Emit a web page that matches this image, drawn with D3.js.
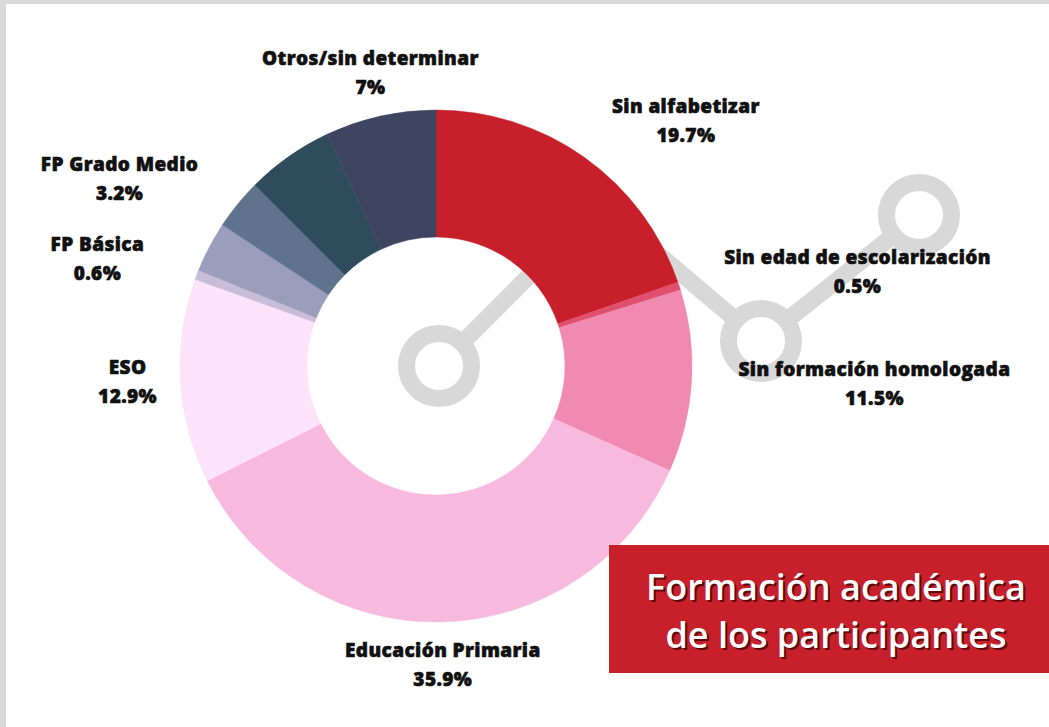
<!DOCTYPE html>
<html>
<head>
<meta charset="utf-8">
<script src="https://cdn.jsdelivr.net/npm/d3@7"></script>
<style>
  html, body { margin: 0; padding: 0; background: #fff; }
  svg { display: block; }
</style>
</head>
<body>
<div id="chart"></div>
<script>
// slices, clockwise from 12 o'clock (empty label = no text in the original)
const categories = ["Sin alfabetizar", "Sin edad de escolarización", "Sin formación homologada",
  "Educación Primaria", "ESO", "FP Básica", "FP Grado Medio", "", " ", "Otros/sin determinar"];
const values = [19.7, 0.5, 11.5, 35.9, 12.9, 0.6, 3.2, 3.2, 5.5, 7];
const colors = ["#c8202b", "#e04f6d", "#f08ab1", "#f8b9de", "#fde3fa",
  "#c8bdd8", "#9a9ebb", "#5f738d", "#2f4c5d", "#3d4560"];

// label nudges from the centroid at labelR
const labelNudge = {
  "Sin alfabetizar": [70, 8],
  "Sin edad de escolarización": [127, 3],
  "Sin formación homologada": [129, 0],
  "Educación Primaria": [0, -11],
  "ESO": [1, -2],
  "FP Básica": [-49, 3],
  "FP Grado Medio": [-42, -43],
  "Otros/sin determinar": [2, 10]
};

const width = 1049, height = 727;
const cx = 436, cy = 366;
const outerR = 256, innerR = 129, labelR = 310;

const data = categories.map((c, i) => ({ name: c, value: values[i], color: colors[i] }));

const svg = d3.select("#chart").append("svg")
    .attr("width", width)
    .attr("height", height)
    .attr("font-family", "'Open Sans', 'Noto Sans', sans-serif");

// frame
svg.append("rect").attr("width", width).attr("height", height).attr("fill", "#d9d9d9");
svg.append("rect").attr("x", 6).attr("y", 4).attr("width", width).attr("height", height).attr("fill", "#fff");

// decorative trend icon behind the donut
const deco = svg.append("g").attr("fill", "none").attr("stroke", "#d8d8d8").attr("stroke-width", 17);
const nodes = [[439, 366], [600, 205], [761, 341], [919, 215]];
deco.append("path").attr("d", d3.line()(nodes));
[nodes[0], nodes[2], nodes[3]].forEach(([x, y]) => {
  deco.append("circle").attr("cx", x).attr("cy", y).attr("r", 32.5).attr("fill", "#fff");
});

const pie = d3.pie().value(d => d.value).sort(null);
const arcs = pie(data);
const arc = d3.arc().innerRadius(innerR).outerRadius(outerR);
const labelArc = d3.arc().innerRadius(labelR).outerRadius(labelR);

const g = svg.append("g").attr("transform", `translate(${cx},${cy})`);

g.selectAll("path.slice")
  .data(arcs)
  .join("path")
    .attr("class", "slice")
    .attr("fill", d => d.data.color)
    .attr("stroke", d => d.data.color)
    .attr("stroke-width", 0.5)
    .attr("d", arc);

const labels = g.selectAll("text.lbl")
  .data(arcs.filter(d => d.data.name.trim() !== ""))
  .join("text")
    .attr("class", "lbl")
    .attr("text-anchor", "middle")
    .attr("font-size", 19)
    .attr("font-weight", 800)
    .attr("letter-spacing", 0.4)
    .attr("fill", "#111")
    .attr("stroke", "#111")
    .attr("stroke-width", 0.6)
    .attr("transform", d => {
      const [x, y] = labelArc.centroid(d);
      const [dx, dy] = labelNudge[d.data.name];
      return `translate(${x + dx},${y + dy})`;
    });

labels.append("tspan").attr("x", 0).attr("y", -8).text(d => d.data.name);
labels.append("tspan").attr("x", 0).attr("y", 21).text(d => `${d.data.value}%`);

// title box
const tb = svg.append("g");
tb.append("rect")
    .attr("x", 609).attr("y", 545)
    .attr("width", width - 609).attr("height", 128)
    .attr("fill", "#c8202b");
const titleLines = ["Formación académica", "de los participantes"];
[[2, 2, "rgba(60,0,0,0.75)"], [0, 0, "#fff"]].forEach(([ox, oy, col]) => {
  tb.append("text")
      .attr("text-anchor", "middle")
      .attr("font-size", 36)
      .attr("font-weight", 600)
      .attr("fill", col)
    .selectAll("tspan")
    .data(titleLines)
    .join("tspan")
      .attr("x", 836 + ox)
      .attr("y", (d, i) => 600 + i * 48 + oy)
      .text(d => d);
});
</script>
</body>
</html>
